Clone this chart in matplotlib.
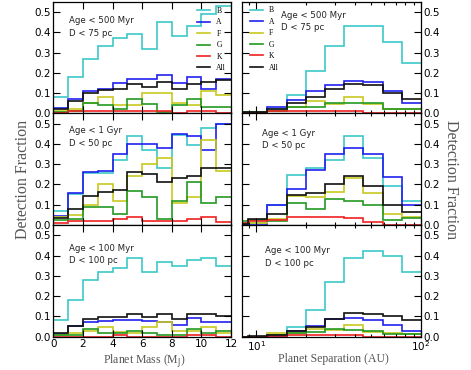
import numpy as np
import matplotlib
matplotlib.use("Agg")
import matplotlib.pyplot as plt
from matplotlib.lines import Line2D
from matplotlib.ticker import MultipleLocator

# star types and colours
types = ["B", "A", "F", "G", "K", "All"]
colors = ["#3cc8c8", "#2020f0", "#c8c820", "#229922", "#f02020", "#111111"]

# bin edges
mass_edges = np.arange(0, 13)                 # Planet mass (M_J)
sep_edges = np.geomspace(4, 100, 13)[2:]      # Planet separation (AU), visible bins

# --- Planet mass, Age < 500 Myr, D < 75 pc
m500_B = [0.08, 0.18, 0.27, 0.33, 0.37, 0.39, 0.32, 0.45, 0.38, 0.43, 0.49, 0.53]
m500_A = [0.025, 0.07, 0.11, 0.12, 0.15, 0.17, 0.17, 0.19, 0.15, 0.18, 0.12, 0.17]
m500_F = [0.01, 0.02, 0.05, 0.08, 0.04, 0.04, 0.10, 0.10, 0.05, 0.04, 0.11, 0.09]
m500_G = [0.005, 0.01, 0.05, 0.04, 0.02, 0.07, 0.045, 0.005, 0.04, 0.07, 0.03, 0.03]
m500_K = [0.0, 0.01, 0.01, 0.01, 0.01, 0.01, 0.01, 0.01, 0.0, 0.01, 0.01, 0.0]
m500_All = [0.02, 0.06, 0.10, 0.115, 0.12, 0.145, 0.13, 0.155, 0.12, 0.145, 0.155, 0.165]

# --- Planet mass, Age < 1 Gyr, D < 50 pc
m1g_B = [0.07, 0.155, 0.255, 0.255, 0.32, 0.44, 0.37, 0.28, 0.445, 0.395, 0.48, 0.50]
m1g_A = [0.045, 0.16, 0.26, 0.265, 0.35, 0.40, 0.40, 0.38, 0.45, 0.44, 0.37, 0.50]
m1g_F = [0.04, 0.05, 0.10, 0.20, 0.12, 0.24, 0.30, 0.33, 0.11, 0.14, 0.42, 0.265]
m1g_G = [0.025, 0.03, 0.09, 0.09, 0.055, 0.17, 0.14, 0.03, 0.12, 0.21, 0.11, 0.14]
m1g_K = [0.01, 0.02, 0.02, 0.02, 0.03, 0.04, 0.02, 0.02, 0.02, 0.03, 0.04, 0.015]
m1g_All = [0.035, 0.08, 0.145, 0.165, 0.175, 0.26, 0.25, 0.21, 0.23, 0.24, 0.28, 0.28]

# --- Planet mass, Age < 100 Myr, D < 100 pc
m100_B = [0.08, 0.18, 0.28, 0.32, 0.34, 0.39, 0.32, 0.37, 0.35, 0.38, 0.39, 0.35]
m100_A = [0.015, 0.055, 0.07, 0.075, 0.08, 0.08, 0.075, 0.07, 0.06, 0.09, 0.07, 0.07]
m100_F = [0.01, 0.02, 0.03, 0.05, 0.025, 0.02, 0.05, 0.07, 0.03, 0.03, 0.05, 0.02]
m100_G = [0.01, 0.01, 0.04, 0.02, 0.02, 0.03, 0.02, 0.01, 0.01, 0.04, 0.02, 0.03]
m100_K = [0.0, 0.0, 0.0, 0.0, 0.01, 0.0, 0.0, 0.0, 0.0, 0.01, 0.01, 0.0]
m100_All = [0.02, 0.055, 0.085, 0.095, 0.095, 0.11, 0.095, 0.11, 0.085, 0.11, 0.11, 0.10]

# --- Planet separation, Age < 500 Myr, D < 75 pc
s500_B = [0.0, 0.0, 0.02, 0.09, 0.21, 0.33, 0.43, 0.43, 0.35, 0.25]
s500_A = [0.0, 0.0, 0.03, 0.065, 0.11, 0.14, 0.16, 0.155, 0.11, 0.05]
s500_F = [0.0, 0.0, 0.01, 0.03, 0.06, 0.045, 0.08, 0.045, 0.02, 0.02]
s500_G = [0.005, 0.005, 0.01, 0.03, 0.03, 0.05, 0.05, 0.05, 0.02, 0.02]
s500_K = [0.0, 0.0, 0.013, 0.013, 0.013, 0.013, 0.013, 0.0, 0.0, 0.0]
s500_All = [0.005, 0.005, 0.02, 0.05, 0.08, 0.12, 0.145, 0.14, 0.10, 0.07]

# --- Planet separation, Age < 1 Gyr, D < 50 pc
s1g_B = [0.01, 0.01, 0.10, 0.245, 0.28, 0.32, 0.44, 0.33, 0.195, 0.12]
s1g_A = [0.0, 0.0, 0.10, 0.18, 0.27, 0.35, 0.38, 0.35, 0.235, 0.10]
s1g_F = [0.01, 0.01, 0.03, 0.145, 0.14, 0.165, 0.23, 0.16, 0.055, 0.04]
s1g_G = [0.02, 0.025, 0.02, 0.11, 0.08, 0.13, 0.12, 0.10, 0.025, 0.035]
s1g_K = [0.01, 0.02, 0.025, 0.04, 0.04, 0.04, 0.033, 0.013, 0.0, 0.0]
s1g_All = [0.005, 0.03, 0.055, 0.15, 0.16, 0.20, 0.24, 0.195, 0.10, 0.063]

# --- Planet separation, Age < 100 Myr, D < 100 pc
s100_B = [0.0, 0.0, 0.01, 0.05, 0.13, 0.27, 0.39, 0.42, 0.40, 0.32]
s100_A = [0.0, 0.0, 0.005, 0.03, 0.055, 0.085, 0.09, 0.08, 0.06, 0.03]
s100_F = [0.0, 0.0, 0.02, 0.02, 0.04, 0.035, 0.06, 0.025, 0.02, 0.015]
s100_G = [0.0, 0.0, 0.01, 0.02, 0.025, 0.04, 0.035, 0.03, 0.015, 0.015]
s100_K = [0.0, 0.0, 0.005, 0.01, 0.01, 0.01, 0.01, 0.0, 0.0, 0.0]
s100_All = [0.0, 0.005, 0.01, 0.03, 0.05, 0.085, 0.115, 0.11, 0.10, 0.08]

panel_text = ["Age < 500 Myr\nD < 75 pc", "Age < 1 Gyr\nD < 50 pc", "Age < 100 Myr\nD < 100 pc"]

mass_rows = [
    [m500_B, m500_A, m500_F, m500_G, m500_K, m500_All],
    [m1g_B, m1g_A, m1g_F, m1g_G, m1g_K, m1g_All],
    [m100_B, m100_A, m100_F, m100_G, m100_K, m100_All],
]
sep_rows = [
    [s500_B, s500_A, s500_F, s500_G, s500_K, s500_All],
    [s1g_B, s1g_A, s1g_F, s1g_G, s1g_K, s1g_All],
    [s100_B, s100_A, s100_F, s100_G, s100_K, s100_All],
]

SERIF = "Liberation Serif"
LABEL_COL = "#555555"

plt.rcParams["font.family"] = "DejaVu Sans"
plt.rcParams["axes.linewidth"] = 0.9

fig = plt.figure(figsize=(4.71, 3.70), dpi=100)
gs_left = fig.add_gridspec(3, 1, left=0.1132, right=0.4905, bottom=0.09, top=0.995, hspace=0)
gs_right = fig.add_gridspec(3, 1, left=0.5138, right=0.894, bottom=0.09, top=0.995, hspace=0)

text_pos_left = [(0.088, 0.835, 0.72), (0.088, 0.85, 0.73), (0.088, 0.786, 0.68)]
text_pos_right = [(0.216, 0.88, 0.77), (0.11, 0.82, 0.715), (0.128, 0.77, 0.66)]


def style_axis(ax):
    ax.set_ylim(0, 0.55)
    ax.yaxis.set_major_locator(MultipleLocator(0.1))
    ax.tick_params(which="both", direction="in", top=True, right=True,
                   labelsize=7.5, pad=2, width=0.8)
    ax.tick_params(which="major", length=5)
    ax.tick_params(which="minor", length=2.5)
    ax.yaxis.set_major_formatter(plt.FormatStrFormatter("%.1f"))


def add_legend(ax, anchor):
    handles = [Line2D([], [], color=c, lw=1.2) for c in colors]
    ax.legend(handles, types, loc="upper left", bbox_to_anchor=anchor,
              frameon=False, prop={"family": SERIF, "size": 5.5},
              handlelength=1.7, handletextpad=0.8, labelspacing=0.45,
              borderpad=0, borderaxespad=0)


def add_label(ax, pos, txt):
    tx, ty1, ty2 = pos
    l1, l2 = txt.split("\n")
    ax.text(tx, ty1, l1, transform=ax.transAxes, fontsize=6.2, va="center", color="#222222")
    ax.text(tx, ty2, l2, transform=ax.transAxes, fontsize=6.2, va="center", color="#222222")


for row in range(3):
    # mass panel
    ax = fig.add_subplot(gs_left[row])
    for vals, c in zip(mass_rows[row], colors):
        ax.stairs(vals, mass_edges, color=c, lw=1.2, baseline=None)
    ax.set_xlim(0, 12)
    ax.xaxis.set_major_locator(MultipleLocator(2))
    style_axis(ax)
    if row < 2:
        ax.tick_params(labelbottom=False)
    add_label(ax, text_pos_left[row], panel_text[row])
    if row == 0:
        add_legend(ax, (0.81, 0.955))

    # separation panel
    ax = fig.add_subplot(gs_right[row])
    for vals, c in zip(sep_rows[row], colors):
        ax.stairs(vals, sep_edges, color=c, lw=1.2, baseline=None)
    ax.set_xscale("log")
    ax.set_xlim(8.2, 100)
    style_axis(ax)
    ax.tick_params(labelleft=False, labelright=True)
    if row < 2:
        ax.tick_params(which="both", labelbottom=False)
    add_label(ax, text_pos_right[row], panel_text[row])
    if row == 0:
        add_legend(ax, (0.045, 0.96))

fig.text(0.049, 0.516, "Detection Fraction", rotation=90, ha="center", va="center",
         fontsize=11.5, family=SERIF, color=LABEL_COL)
fig.text(0.958, 0.516, "Detection Fraction", rotation=270, ha="center", va="center",
         fontsize=11.5, family=SERIF, color=LABEL_COL)
fig.text(0.306, 0.027, "Planet Mass (M$_\\mathrm{J}$)", ha="center", va="center",
         fontsize=8.5, family=SERIF, color=LABEL_COL)
fig.text(0.707, 0.029, "Planet Separation (AU)", ha="center", va="center",
         fontsize=8.5, family=SERIF, color=LABEL_COL)

fig.savefig("out.png", dpi=100)
